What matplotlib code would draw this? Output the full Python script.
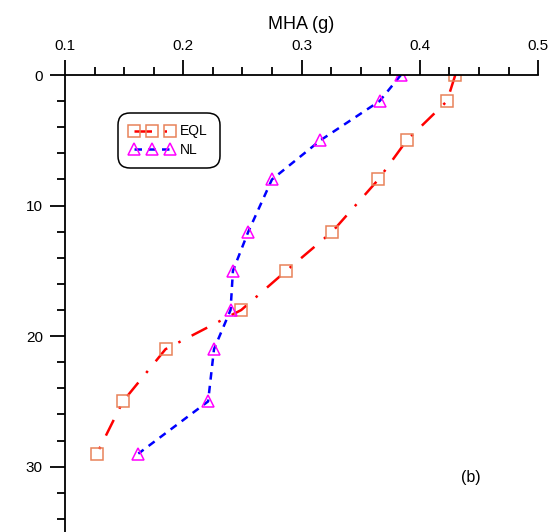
import matplotlib
matplotlib.use("Agg")
import matplotlib.pyplot as plt
from matplotlib.ticker import MultipleLocator

plt.rcParams['font.family'] = ['Liberation Sans', 'DejaVu Sans']

depth = [0, 2, 5, 8, 12, 15, 18, 21, 25, 29]
eql = [0.430, 0.423, 0.389, 0.365, 0.326, 0.287, 0.249, 0.185, 0.149, 0.127]
depth_nl = [0, 2, 5, 8, 12, 15, 18, 21, 25, 29]
nl = [0.384, 0.366, 0.316, 0.275, 0.255, 0.242, 0.240, 0.226, 0.221, 0.162]
xticks = [0.1, 0.2, 0.3, 0.4, 0.5]
yticks = [0, 10, 20, 30]

fig = plt.figure(figsize=(5.53, 5.32), dpi=100)
ax = fig.add_axes([0.1175, 0.0, 0.8555, 0.859])

ax.plot(eql, depth, color='red', lw=1.8, dashes=(7, 5, 1, 5),
        marker='s', ms=9, mfc='none', mec='#e8825a', mew=1.1, label='EQL')
ax.plot(nl, depth_nl, color='blue', lw=1.8, dashes=(3, 2.5),
        marker='^', ms=9, mfc='none', mec='#ff00ff', mew=1.1, label='NL')

ax.set_xlim(0.1, 0.5)
ax.set_ylim(35, 0)
ax.set_xticks(xticks)
ax.set_yticks(yticks)
ax.xaxis.set_minor_locator(MultipleLocator(0.025))
ax.yaxis.set_minor_locator(MultipleLocator(2))
ax.xaxis.tick_top()
ax.xaxis.set_label_position('top')
ax.set_xlabel('MHA (g)', fontsize=13, labelpad=7)
ax.tick_params(axis='both', which='major', length=11, width=1.3, labelsize=11, direction='out', pad=5)
ax.tick_params(axis='both', which='minor', length=6, width=1.3, direction='out')
for s in ['right', 'bottom']:
    ax.spines[s].set_visible(False)
for s in ['left', 'top']:
    ax.spines[s].set_linewidth(1.3)

ax.text(0.443, 30.8, '(b)', fontsize=11.5, ha='center', va='center')

leg = ax.legend(loc='upper left', bbox_to_anchor=(0.1247, 0.904), numpoints=3,
                fontsize=10, frameon=True, fancybox=True, edgecolor='black',
                handlelength=3.2, handletextpad=0.45, borderpad=0.4, labelspacing=0.3,
                borderaxespad=0, markerscale=1.0)
leg.get_frame().set_linewidth(1.1)
leg.get_frame().set_alpha(1)
leg.get_frame().set_boxstyle('round', pad=0.45, rounding_size=0.9)

fig.savefig('out.png', dpi=100)
